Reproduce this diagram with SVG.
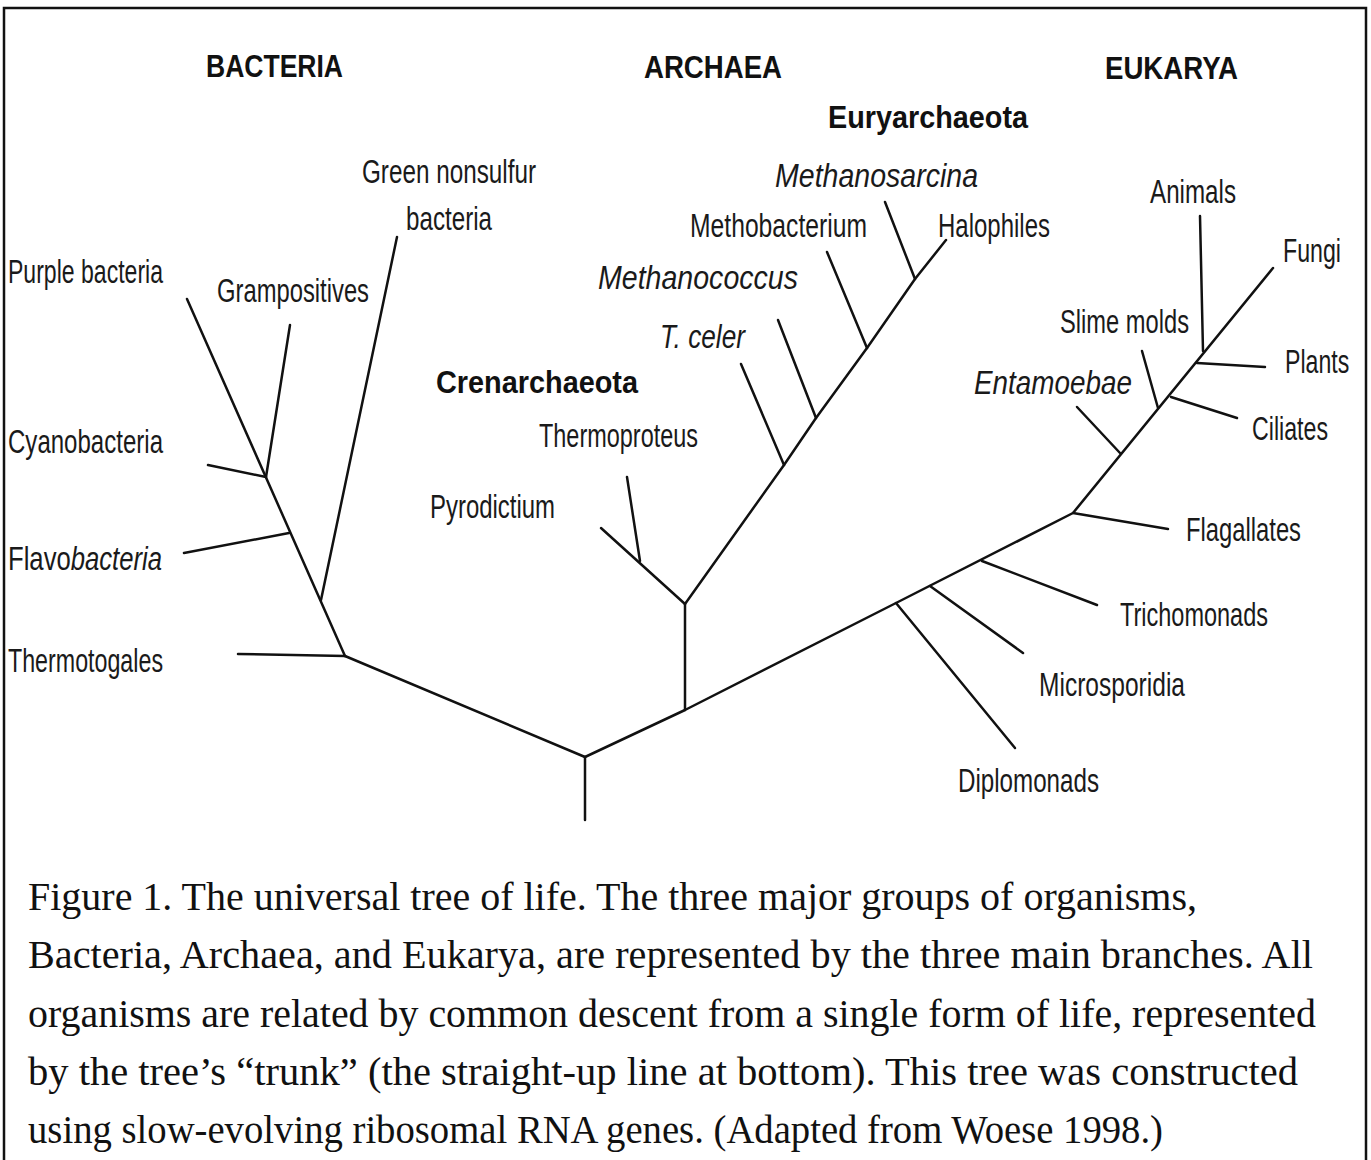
<svg xmlns="http://www.w3.org/2000/svg" width="1371" height="1160" viewBox="0 0 1371 1160">
<style>
.lbl{font-family:"Liberation Sans",Arial,sans-serif;font-size:34px;fill:#1a1a1a}
.it{font-style:italic}
.hd{font-family:"Liberation Sans",Arial,sans-serif;font-weight:bold;font-size:32px;fill:#111}
.cap{font-family:"Liberation Serif","Times New Roman",serif;font-size:39px;fill:#111}
.br{stroke:#111;stroke-width:2.5;fill:none;stroke-linecap:round;stroke-linejoin:round}
.frame{stroke:#111;stroke-width:2.5;fill:none}
</style>
<rect x="0" y="0" width="1371" height="1160" fill="#fff"/>
<path class="frame" d="M4,1162 L4,8 L1366,8 L1366,1162"/>

<g id="connectors">
  <path class="br" d="M585,820 L585,757"/>
  <path class="br" d="M585,757 L345,656"/>
  <path class="br" d="M345,656 L238,654"/>
  <path class="br" d="M345,656 L187,299"/>
  <path class="br" d="M321,600 L397,237"/>
  <path class="br" d="M289,533 L184,553"/>
  <path class="br" d="M266,477 L208,465"/>
  <path class="br" d="M266,477 L290,325"/>
  <path class="br" d="M585,757 L685,710 L896,603 L1073,513 L1273,268"/>
  <path class="br" d="M685,710 L685,604"/>
  <path class="br" d="M685,604 L601,528"/>
  <path class="br" d="M640,561 L627,477"/>
  <path class="br" d="M685,604 L784,465 L816,418 L867,348 L915,279 L946,240"/>
  <path class="br" d="M784,465 L741,364"/>
  <path class="br" d="M816,418 L778,320"/>
  <path class="br" d="M867,348 L827,252"/>
  <path class="br" d="M915,279 L885,202"/>
  <path class="br" d="M896,603 L1015,748"/>
  <path class="br" d="M930,586 L1023,653"/>
  <path class="br" d="M982,561 L1097,605"/>
  <path class="br" d="M1073,513 L1168,529"/>
  <path class="br" d="M1120,453 L1077,407"/>
  <path class="br" d="M1158,408 L1142,351"/>
  <path class="br" d="M1171,397 L1237,418"/>
  <path class="br" d="M1197,363 L1265,367"/>
  <path class="br" d="M1203,351 L1200,216"/>
</g>

<g id="hd-bacteria"><text class="hd" x="206" y="77" textLength="137" lengthAdjust="spacingAndGlyphs">BACTERIA</text></g>
<g id="hd-archaea"><text class="hd" x="644" y="78" textLength="138" lengthAdjust="spacingAndGlyphs">ARCHAEA</text></g>
<g id="hd-eukarya"><text class="hd" x="1105" y="79" textLength="133" lengthAdjust="spacingAndGlyphs">EUKARYA</text></g>
<g id="hd-eury"><text class="hd" x="828" y="128" textLength="200" lengthAdjust="spacingAndGlyphs">Euryarchaeota</text></g>
<g id="hd-cren"><text class="hd" x="436" y="393" textLength="202" lengthAdjust="spacingAndGlyphs">Crenarchaeota</text></g>

<g id="n-purple"><text class="lbl" x="8" y="283" textLength="155" lengthAdjust="spacingAndGlyphs">Purple bacteria</text></g>
<g id="n-cyano"><text class="lbl" x="8" y="453" textLength="155" lengthAdjust="spacingAndGlyphs">Cyanobacteria</text></g>
<g id="n-flavo"><text class="lbl" transform="translate(8,570) scale(0.755,1)" x="0" y="0">Flavo<tspan class="it">bacteria</tspan></text></g>
<g id="n-thermotogales"><text class="lbl" x="8" y="672" textLength="155" lengthAdjust="spacingAndGlyphs">Thermotogales</text></g>
<g id="n-gram"><text class="lbl" x="217" y="302" textLength="152" lengthAdjust="spacingAndGlyphs">Grampositives</text></g>
<g id="n-green">
  <text class="lbl" x="362" y="183" textLength="174" lengthAdjust="spacingAndGlyphs">Green nonsulfur</text>
  <text class="lbl" x="406" y="230" textLength="86" lengthAdjust="spacingAndGlyphs">bacteria</text>
</g>

<g id="n-methanosarcina"><text class="lbl it" x="775" y="187" textLength="203" lengthAdjust="spacingAndGlyphs">Methanosarcina</text></g>
<g id="n-methobacterium"><text class="lbl" x="690" y="237" textLength="177" lengthAdjust="spacingAndGlyphs">Methobacterium</text></g>
<g id="n-halophiles"><text class="lbl" x="938" y="237" textLength="112" lengthAdjust="spacingAndGlyphs">Halophiles</text></g>
<g id="n-methanococcus"><text class="lbl it" x="598" y="289" textLength="200" lengthAdjust="spacingAndGlyphs">Methanococcus</text></g>
<g id="n-tceler"><text class="lbl it" x="660" y="348" textLength="85" lengthAdjust="spacingAndGlyphs">T. celer</text></g>
<g id="n-thermoproteus"><text class="lbl" x="539" y="447" textLength="159" lengthAdjust="spacingAndGlyphs">Thermoproteus</text></g>
<g id="n-pyrodictium"><text class="lbl" x="430" y="518" textLength="125" lengthAdjust="spacingAndGlyphs">Pyrodictium</text></g>

<g id="n-animals"><text class="lbl" x="1150" y="203" textLength="86" lengthAdjust="spacingAndGlyphs">Animals</text></g>
<g id="n-fungi"><text class="lbl" x="1283" y="262" textLength="58" lengthAdjust="spacingAndGlyphs">Fungi</text></g>
<g id="n-slime"><text class="lbl" x="1060" y="333" textLength="129" lengthAdjust="spacingAndGlyphs">Slime molds</text></g>
<g id="n-plants"><text class="lbl" transform="translate(1285,373) scale(0.68,1)" x="0" y="0">Plants</text></g>
<g id="n-entamoebae"><text class="lbl it" x="974" y="394" textLength="158" lengthAdjust="spacingAndGlyphs">Entamoebae</text></g>
<g id="n-ciliates"><text class="lbl" x="1252" y="440" textLength="76" lengthAdjust="spacingAndGlyphs">Ciliates</text></g>
<g id="n-flagallates"><text class="lbl" x="1186" y="541" textLength="115" lengthAdjust="spacingAndGlyphs">Flagallates</text></g>
<g id="n-trichomonads"><text class="lbl" x="1120" y="626" textLength="148" lengthAdjust="spacingAndGlyphs">Trichomonads</text></g>
<g id="n-microsporidia"><text class="lbl" x="1039" y="696" textLength="146" lengthAdjust="spacingAndGlyphs">Microsporidia</text></g>
<g id="n-diplomonads"><text class="lbl" x="958" y="792" textLength="141" lengthAdjust="spacingAndGlyphs">Diplomonads</text></g>

<g id="caption">
  <text class="cap" x="28" y="910" textLength="1169" lengthAdjust="spacingAndGlyphs">Figure 1. The universal tree of life. The three major groups of organisms,</text>
  <text class="cap" x="28" y="968" textLength="1285" lengthAdjust="spacingAndGlyphs">Bacteria, Archaea, and Eukarya, are represented by the three main branches. All</text>
  <text class="cap" x="28" y="1027" textLength="1288" lengthAdjust="spacingAndGlyphs">organisms are related by common descent from a single form of life, represented</text>
  <text class="cap" x="28" y="1085" textLength="1270" lengthAdjust="spacingAndGlyphs">by the tree’s “trunk” (the straight-up line at bottom). This tree was constructed</text>
  <text class="cap" x="28" y="1143" textLength="1135" lengthAdjust="spacingAndGlyphs">using slow-evolving ribosomal RNA genes. (Adapted from Woese 1998.)</text>
</g>
</svg>
